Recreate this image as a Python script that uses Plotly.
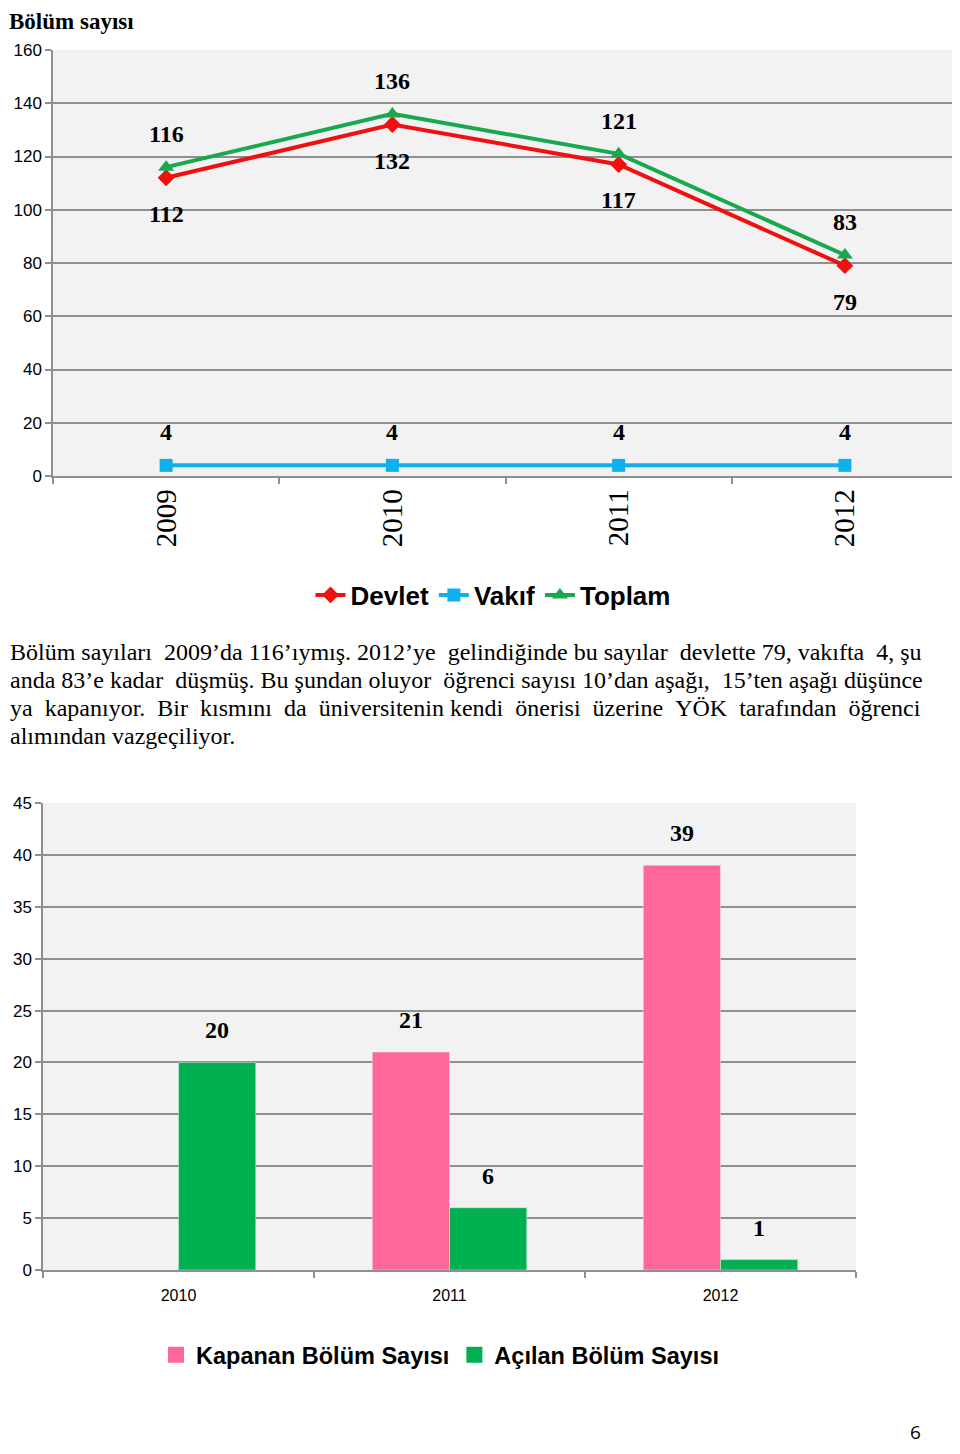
import plotly.graph_objects as go

# sayfa kenar boşluğu (body margin 8px) hesaba katılıyor
W, H = 952, 1438
OX, OY = 8, 8

# --- veriler ---
yillar = ['2009', '2010', '2011', '2012']
devlet = [112, 132, 117, 79]
vakif = [4, 4, 4, 4]
toplam = [116, 136, 121, 83]

bar_yillar = ['2010', '2011', '2012']
kapanan = [None, 21, 39]
acilan = [20, 6, 1]

paragraf = [
    'Bölüm sayıları 2009’da 116’ıymış. 2012’ye gelindiğinde bu sayılar devlette 79, vakıfta 4, şu',
    'anda 83’e kadar düşmüş. Bu şundan oluyor öğrenci sayısı 10’dan aşağı, 15’ten aşağı düşünce',
    'ya kapanıyor. Bir kısmını da üniversitenin kendi önerisi üzerine YÖK tarafından öğrenci',
    'alımından vazgeçiliyor.',
]
# iki yana yaslama için satır başına eklenecek boşluk sayısı
ek_bosluk = [4, 3, 10, 0]

SERIF = 'Liberation Serif, Times New Roman, serif'
SANS = 'Liberation Sans, Arial, sans-serif'
GRID = '#8f8f8f'
BG = '#f2f2f2'


def fx(p):
    return min(max((p - OX) / W, 0), 1)


def fy(p):
    return 1 - (p - OY) / H


def yasla(satir, n):
    # kelime aralarına eşit dağıtılmış bölünmez boşluklar
    kel = satir.split(' ')
    bos = len(kel) - 1
    if n == 0 or bos == 0:
        return satir
    out = kel[0]
    verilen = 0
    for j in range(1, len(kel)):
        hedef = round(j * n / bos)
        out += ' ' + '\u00a0' * (hedef - verilen) + kel[j]
        verilen = hedef
    return out


fig = go.Figure()

# --- çizgi grafik ---
fig.add_trace(go.Scatter(x=yillar, y=devlet, name='Devlet', mode='lines+markers',
                         line=dict(color='#f01010', width=4),
                         marker=dict(symbol='diamond', size=13, color='#f01010'),
                         xaxis='x', yaxis='y', legend='legend'))
fig.add_trace(go.Scatter(x=yillar, y=vakif, name='Vakıf', mode='lines+markers',
                         line=dict(color='#0fb0ec', width=4),
                         marker=dict(symbol='square', size=13, color='#0fb0ec'),
                         xaxis='x', yaxis='y', legend='legend'))
fig.add_trace(go.Scatter(x=yillar, y=toplam, name='Toplam', mode='lines+markers',
                         line=dict(color='#1aa84f', width=4),
                         marker=dict(symbol='triangle-up', size=14, color='#1aa84f'),
                         xaxis='x', yaxis='y', legend='legend'))

# --- sütun grafik ---
renk_kap, renk_acl = '#ff6699', '#00b050'
fig.add_trace(go.Bar(x=bar_yillar, y=kapanan, name='Kapanan Bölüm Sayısı',
                     marker_color=renk_kap, xaxis='x2', yaxis='y2', showlegend=False))
fig.add_trace(go.Bar(x=bar_yillar, y=acilan, name='Açılan Bölüm Sayısı',
                     marker_color=renk_acl, xaxis='x2', yaxis='y2', showlegend=False))
# lejant için büyük kare işaretler
for ad, renk in [('Kapanan Bölüm Sayısı', renk_kap), ('Açılan Bölüm Sayısı', renk_acl)]:
    fig.add_trace(go.Scatter(x=[None], y=[None], name=ad, mode='markers',
                             marker=dict(symbol='square', size=18, color=renk),
                             xaxis='x2', yaxis='y2', legend='legend2'))

ann = []
lab_font = dict(family=SERIF, size=24, color='black', weight='bold')
for i, (d, v, t) in enumerate(zip(devlet, vakif, toplam)):
    ann.append(dict(x=i, y=t, xref='x', yref='y', text=str(t), showarrow=False,
                    yshift=33, font=lab_font))
    ann.append(dict(x=i, y=d, xref='x', yref='y', text=str(d), showarrow=False,
                    yshift=-36, font=lab_font))
    ann.append(dict(x=i, y=v, xref='x', yref='y', text=str(v), showarrow=False,
                    yshift=33, font=lab_font))

bargap = 0.43
bw = (1 - bargap) / 2
for i, (k, a) in enumerate(zip(kapanan, acilan)):
    if k is not None:
        ann.append(dict(x=i - bw / 2, y=k, xref='x2', yref='y2', text=str(k), showarrow=False,
                        yanchor='bottom', yshift=17, font=lab_font))
    ann.append(dict(x=i + bw / 2, y=a, xref='x2', yref='y2', text=str(a), showarrow=False,
                    yanchor='bottom', yshift=17, font=lab_font))

# başlık, paragraf, sayfa no
ann.append(dict(x=fx(5), y=1, xref='paper', yref='paper', text='Bölüm sayısı',
                xanchor='left', yanchor='top', showarrow=False, borderpad=0,
                font=dict(family=SERIF, size=23, color='black', weight='bold')))
for i, satir in enumerate(paragraf):
    ann.append(dict(x=fx(4), y=fy(652 + 28 * i), xref='paper', yref='paper',
                    text=yasla(satir, ek_bosluk[i]),
                    xanchor='left', yanchor='middle', showarrow=False,
                    font=dict(family=SERIF, size=24, color='black')))
ann.append(dict(x=fx(915), y=0, xref='paper', yref='paper', text='6',
                xanchor='center', yanchor='bottom', showarrow=False, borderpad=0,
                font=dict(family='Open Sans, sans-serif', size=19, color='black')))

ax_common = dict(showline=True, linecolor=GRID, linewidth=1.5, ticks='outside',
                 tickcolor=GRID, ticklen=6, tickwidth=1.5)

fig.update_layout(
    width=W, height=H, margin=dict(l=0, r=0, t=0, b=0, autoexpand=False),
    paper_bgcolor='white', plot_bgcolor=BG, showlegend=True,
    barmode='group', bargap=bargap, bargroupgap=0,
    xaxis=dict(domain=[fx(53), fx(958)], anchor='y', type='category', range=[-0.5, 3.5],
               tickson='boundaries', tickangle=-90, showgrid=False,
               tickfont=dict(family=SERIF, size=29, color='black'), **ax_common),
    yaxis=dict(domain=[fy(476), fy(50)], anchor='x', range=[0, 160], dtick=20,
               showgrid=True, gridcolor=GRID, gridwidth=1.5, zeroline=False,
               tickfont=dict(family=SANS, size=17, color='black'), **ax_common),
    xaxis2=dict(domain=[fx(43), fx(856)], anchor='y2', type='category', range=[-0.5, 2.5],
                tickson='boundaries', showgrid=False, ticklabelstandoff=10,
                tickfont=dict(family=SANS, size=16, color='black'), **ax_common),
    yaxis2=dict(domain=[fy(1270), fy(803)], anchor='x2', range=[0, 45], dtick=5,
                showgrid=True, gridcolor=GRID, gridwidth=1.5, zeroline=False,
                tickfont=dict(family=SANS, size=17, color='black'), **ax_common),
    legend=dict(orientation='h', x=fx(493), xanchor='center', y=fy(595), yanchor='middle',
                font=dict(family=SANS, size=26, color='black', weight='bold'),
                bgcolor='rgba(0,0,0,0)', itemwidth=30),
    legend2=dict(orientation='h', x=fx(440), xanchor='center', y=fy(1355), yanchor='middle',
                 font=dict(family=SANS, size=23.5, color='black', weight='bold'),
                 bgcolor='rgba(0,0,0,0)', itemwidth=30, itemsizing='trace'),
    annotations=ann,
)

fig.write_html('out.html')
